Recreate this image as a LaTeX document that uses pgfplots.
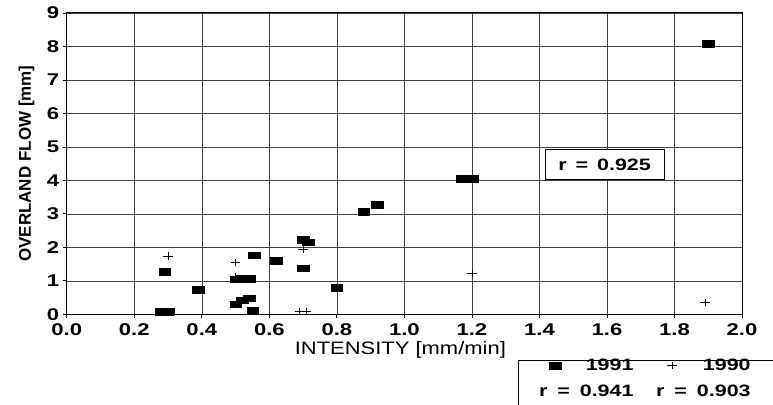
\documentclass[border=0pt]{standalone}
\usepackage{fontspec}
\setmainfont{Liberation Sans}
\newfontfamily\widefont[FakeStretch=1.3]{Liberation Sans}
\newfontfamily\labelfont[FakeStretch=1.22]{Liberation Sans}
\usepackage{pgfplots}
\pgfplotsset{compat=1.18}

\begin{document}
\begin{tikzpicture}
\begin{axis}[
  name=ax,
  at={(0,0)}, anchor=south west,
  scale only axis,
  width=675.2pt, height=301.3pt,
  xmin=0, xmax=2, ymin=0, ymax=9,
  xtick={0,0.2,0.4,0.6,0.8,1,1.2,1.4,1.6,1.8,2},
  ytick={0,1,2,3,4,5,6,7,8,9},
  grid=major,
  major grid style={black!75, line width=0.6pt},
  axis line style={line width=1pt},
  tick align=outside, tick pos=left,
  major tick length=4pt,
  every tick/.style={black, line width=0.8pt},
  /pgf/number format/assume math mode=true,
  ticklabel style={font=\widefont\bfseries\fontsize{17}{20}\selectfont},
  xticklabel style={yshift=-1.5pt, /pgf/number format/.cd, fixed, fixed zerofill, precision=1},
  xlabel={INTENSITY [mm/min]},
  ylabel={OVERLAND FLOW [mm]},
  xlabel style={at={(axis description cs:0.494,-0.119)}, anchor=center,
    font=\labelfont\fontsize{18}{22}\selectfont},
  ylabel style={at={(axis description cs:-0.0597,0.5)}, anchor=center,
    font=\bfseries\fontsize{17}{20}\selectfont},
  legend columns=2,
  legend style={draw=none, fill=none, inner sep=0pt, row sep=9pt,
    at={(axis description cs:0.710,-0.1420)}, anchor=north west,
    font=\widefont\bfseries\fontsize{16.5}{20}\selectfont,
    /tikz/every even column/.append style={column sep=28pt}},
  legend image code/.code={%
    \path (0pt,0pt) (37pt,0pt);
    \draw[#1] plot coordinates {(8.5pt,0pt)};},
]

% 1991 events
\addplot[only marks, mark=square*, mark size=3.3pt, black,
  mark options={xscale=1.75}] coordinates {
  (0.28,0.07) (0.30,0.07) (0.29,1.27) (0.39,0.74)
  (0.50,0.30) (0.52,0.42) (0.54,0.48) (0.55,0.10)
  (0.50,1.05) (0.52,1.06) (0.54,1.06) (0.555,1.77)
  (0.62,1.61) (0.70,2.22) (0.715,2.15) (0.70,1.38)
  (0.80,0.80) (0.88,3.06) (0.92,3.27)
  (1.17,4.05) (1.20,4.05) (1.90,8.09)
};
\addlegendentry{1991}

% 1990 events
\addplot[only marks, mark=+, mark size=3.6pt, black,
  mark options={xscale=1.35, line width=0.6pt}] coordinates {
  (0.30,1.74) (0.50,1.54) (0.50,1.12) (0.70,1.93)
  (0.69,0.08) (0.71,0.08) (1.20,1.22) (1.89,0.35)
};
\addlegendentry{1990}

\addlegendimage{empty legend}
\addlegendentry{\phantom{1991}\llap{r\hspace{4pt} = \hspace{4pt}0.941}}
\addlegendimage{empty legend}
\addlegendentry{\phantom{1990}\llap{r\hspace{4pt} = \hspace{4pt}0.903}}

\node[draw, line width=1pt, fill=white, inner sep=0pt,
  minimum width=119pt, minimum height=30pt,
  font=\widefont\bfseries\fontsize{16.5}{20}\selectfont]
  at (axis cs:1.593,4.46) {r\hspace{3pt} = \hspace{3pt}0.925};
\end{axis}

% frame of the legend, running off the lower right corner
\draw[line width=0.8pt]
  ([xshift=451.2pt, yshift=-160pt]ax.south west) |-
  ([xshift=800pt, yshift=-45.7pt]ax.south west);

\pgfresetboundingbox
\path[use as bounding box]
  ([xshift=-66.8pt, yshift=-89.7pt]ax.south west) rectangle
  ([xshift=31pt, yshift=13pt]ax.north east);
\end{tikzpicture}
\end{document}
